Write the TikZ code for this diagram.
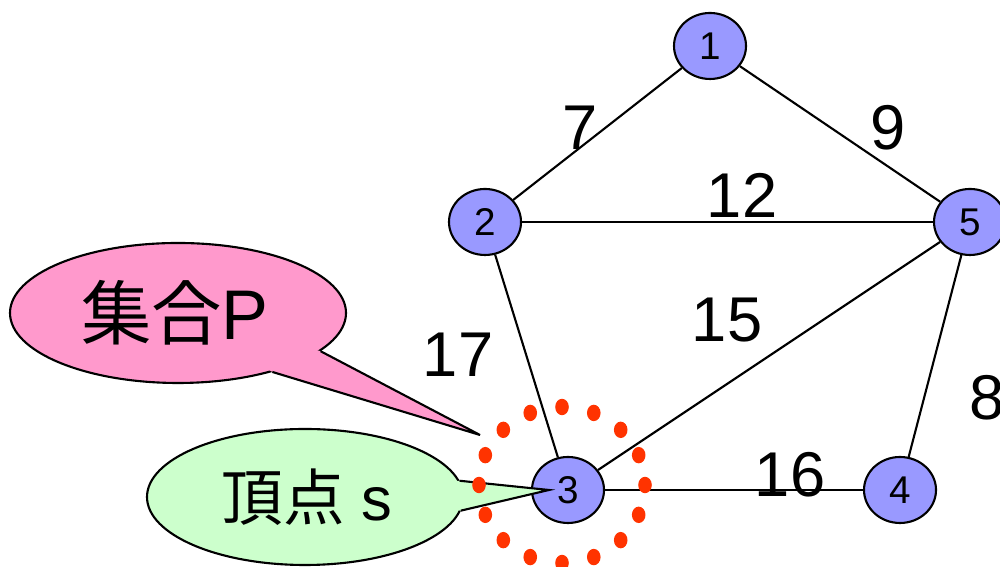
\documentclass[tikz,border=0pt]{standalone}
\usepackage{fontspec}
\setmainfont{Liberation Sans}
\newfontfamily\jpfont{Noto Sans CJK JP}
\usepackage{xcolor}
\usepackage{tikz}
\usetikzlibrary{shapes.geometric}

\definecolor{vertexblue}{HTML}{9999FF}
\definecolor{setpink}{HTML}{FF99CC}
\definecolor{startgreen}{HTML}{CCFFCC}
\definecolor{dotred}{HTML}{FF3300}

\begin{document}
\begin{tikzpicture}[
    vertex/.style={draw, ellipse, fill=vertexblue, line width=.6pt,
        minimum width=.72cm, minimum height=.66cm, inner sep=0pt,
        font=\fontsize{11}{11}\selectfont},
    weight/.style={font=\fontsize{18}{18}\selectfont, inner sep=0pt},
    edge/.style={line width=.6pt}
]

    \useasboundingbox (0,0) rectangle (10,5.67);

    % vertices
    \node[vertex] (v1) at (7.10,5.21) {1};
    \node[vertex] (v2) at (4.85,3.45) {2};
    \node[vertex] (v5) at (9.70,3.45) {5};
    \node[vertex] (v3) at (5.68,0.77) {3};
    \node[vertex] (v4) at (9.00,0.77) {4};

    % edges
    \draw[edge] (v1) -- (v2);
    \draw[edge] (v1) -- (v5);
    \draw[edge] (v2) -- (v5);
    \draw[edge] (v2) -- (v3);
    \draw[edge] (v3) -- (v5);
    \draw[edge] (v3) -- (v4);
    \draw[edge] (v5) -- (v4);

    % weights
    \node[weight] (w12) at (5.80,4.39) {7};
    \node[weight] (w15) at (8.88,4.39) {9};
    \node[weight] (w25) at (7.42,3.72) {12};
    \node[weight] (w35) at (7.27,2.47) {15};
    \node[weight] (w23) at (4.58,2.12) {17};
    \node[weight] (w34) at (7.90,0.92) {16};
    \node[weight] (w54) at (9.87,1.69) {8};

    % callout for P
    \node[draw, ellipse, fill=setpink, line width=.6pt, minimum width=3.36cm,
        minimum height=1.40cm] (setP) at (1.78,2.54) {};
    \coordinate (tipP) at (4.80,1.32);
    \fill[setpink] (tipP) -- (setP.-15) -- (setP.center) -- (setP.-32) -- cycle;
    \draw[line width=.6pt] (setP.-15) -- (tipP) -- (setP.-32);
    \node[font=\fontsize{20}{20}\selectfont] (setPtext) at (1.75,2.54) {{\jpfont 集合}P};

    % callout for s
    \node[draw, ellipse, fill=startgreen, line width=.6pt, minimum width=3.16cm,
        minimum height=1.36cm] (start) at (3.05,0.70) {};
    \coordinate (tipS) at (5.49,0.77);
    \fill[startgreen] (tipS) -- (start.6) -- (start.center) -- (start.-5) -- cycle;
    \draw[line width=.6pt] (start.6) -- (tipS) -- (start.-5);
    \node[font=\fontsize{17.5}{17.5}\selectfont] (starttext) at (3.07,0.70) {{\jpfont 頂点} s};

    % dotted ring around s
    \coordinate (ring) at (5.62,0.82);
    \foreach \a in {0,22.5,...,337.5}
        \fill[dotred] (ring) ++(\a:0.83cm and 0.78cm) ellipse (0.068 and 0.082);

\end{tikzpicture}
\end{document}
